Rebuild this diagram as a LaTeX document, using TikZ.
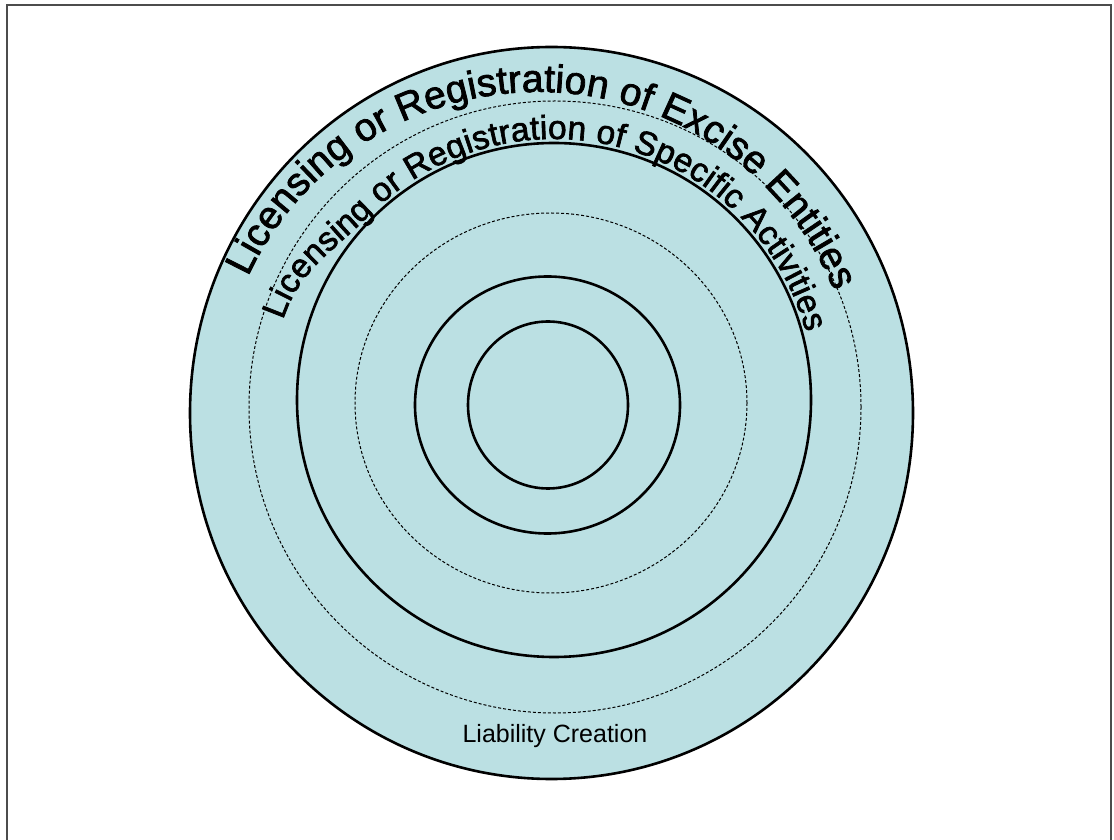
\documentclass[tikz,border=0pt]{standalone}
\usepackage{fontspec}
\setmainfont{Liberation Sans}
\newfontfamily\ringfont[FakeBold=2]{Liberation Sans}
\usetikzlibrary{decorations.text}
\definecolor{ringfill}{HTML}{BBE0E3}
\tikzset{
  ring/.style={line width=2.6pt,draw=black},
  dashring/.style={line width=1pt,draw=black,dash pattern=on 3pt off 2pt},
  arctext/.style={decorate,decoration={text along path,text align=fit to path,text={#1}}}
}
\begin{document}
\begin{tikzpicture}[x=1pt,y=1pt]
  \useasboundingbox (0,0) rectangle (1114,839);
  \draw[line width=1.5pt,black!70] (7,-5) -- (7,834) -- (1111,834) -- (1111,-5);
  \filldraw[ring,fill=ringfill] (551.5,426) ellipse [x radius=361.5pt,y radius=366pt];
  \draw[dashring] (555,432) circle [radius=306pt];
  \draw[ring] (554,439) circle [radius=257pt];
  \draw[dashring] (551,436) ellipse [x radius=196pt,y radius=190pt];
  \draw[ring] (547.5,434) ellipse [x radius=132.5pt,y radius=128.5pt];
  \draw[ring] (548,434) ellipse [x radius=80pt,y radius=83.5pt];
  \path[arctext={|\ringfont\fontsize{39}{39}\selectfont|Licensing or Registration of Excise Entities}]
    (538,427) ++(155:320) arc [start angle=155,end angle=22.2,radius=320pt];
  \path[arctext={|\ringfont\fontsize{33.5}{33.5}\selectfont|Licensing or Registration of Specific Activities}]
    (283,519) to[out=72,in=225] (369.4,623.6) arc [start angle=135,end angle=15,radius=261pt];
  \node[font=\fontsize{25}{25}\selectfont] (liability) at (555,103) {Liability Creation};
\end{tikzpicture}
\end{document}
